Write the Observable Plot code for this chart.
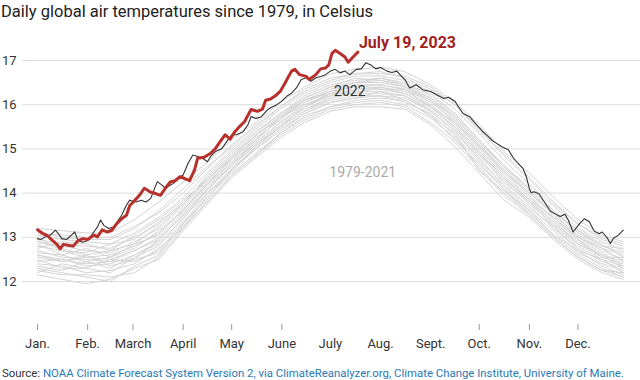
<!DOCTYPE html>
<html><head><meta charset="utf-8">
<script src="https://cdn.jsdelivr.net/npm/d3@7"></script>
<script src="https://cdn.jsdelivr.net/npm/@observablehq/plot@0.6"></script>
<style>
html,body{margin:0;padding:0;background:#fff;}
body{width:640px;height:380px;overflow:hidden;font-family:Roboto,"Liberation Sans",sans-serif;}
#title{font-size:16.5px;color:#222;height:24px;line-height:24px;padding-left:1px;white-space:nowrap;}
#chart svg{display:block;}
#source{font-size:11.4px;color:#333;line-height:18px;padding-left:2px;white-space:nowrap;font-family:Roboto,sans-serif;}
#source span{color:#2a78b6;}
</style></head><body>
<div id="title">Daily global air temperatures since 1979, in Celsius</div>
<div id="chart"></div>
<div id="source">Source: <span>NOAA Climate Forecast System Version 2, via ClimateReanalyzer.org, Climate Change Institute, University of Maine.</span></div>
<script>
// Month axis
const monthStarts = [0,31,59,90,120,151,181,212,243,273,304,334];
const monthLabels = ["Jan.","Feb.","March","April","May","June","July","Aug.","Sept.","Oct.","Nov.","Dec."];
const tickedMonths = [0,31,59,90,120,151,273,304,334];
const yTicks = [12,13,14,15,16,17];

// 1979-2021 (a sample of the gray band, read approximately)
const grayDays = [0,15,30,45,60,75,90,105,120,135,150,165,181,196,212,227,243,258,273,288,304,319,334,349,362];
const grayLines = [
  [12.15,12.05,11.95,12.05,12.3,12.5,13.15,13.75,14.35,14.8,15.25,15.6,15.85,15.95,15.95,15.9,15.55,15.05,14.45,13.85,13.45,12.95,12.5,12.2,12.05],
  [12.3,12.2,12.1,12.0,12.35,12.6,13.3,13.9,14.45,14.9,15.35,15.7,15.95,16.05,16.1,16.0,15.7,15.25,14.6,14.0,13.55,13.05,12.6,12.3,12.1],
  [12.4,12.35,12.2,12.25,12.4,12.75,13.2,13.95,14.5,15.0,15.45,15.8,16.05,16.15,16.2,16.05,15.8,15.3,14.7,14.1,13.6,13.15,12.65,12.4,12.25],
  [12.5,12.3,12.3,12.2,12.55,12.8,13.45,14.0,14.55,15.05,15.5,15.85,16.1,16.2,16.2,16.15,15.85,15.4,14.75,14.2,13.7,13.2,12.75,12.45,12.3],
  [12.6,12.5,12.35,12.4,12.6,12.9,13.4,14.1,14.6,15.1,15.55,15.9,16.15,16.3,16.3,16.2,15.9,15.45,14.85,14.3,13.75,13.3,12.85,12.55,12.4],
  [12.7,12.55,12.5,12.45,12.7,13.0,13.55,14.15,14.7,15.15,15.6,16.0,16.2,16.35,16.4,16.3,16.0,15.55,14.95,14.35,13.85,13.35,12.9,12.6,12.45],
  [12.8,12.7,12.55,12.6,12.8,13.1,13.6,14.2,14.8,15.2,15.7,16.05,16.3,16.4,16.45,16.35,16.05,15.65,15.05,14.45,13.9,13.45,13.0,12.7,12.5],
  [12.9,12.8,12.7,12.65,12.9,13.2,13.7,14.3,14.85,15.3,15.75,16.1,16.35,16.5,16.5,16.4,16.1,15.7,15.1,14.55,14.0,13.5,13.05,12.75,12.6],
  [12.95,12.85,12.8,12.75,13.0,13.3,13.8,14.35,14.9,15.35,15.8,16.2,16.45,16.55,16.6,16.5,16.2,15.8,15.2,14.65,14.1,13.6,13.1,12.8,12.65],
  [13.05,12.95,12.9,12.85,13.1,13.45,13.9,14.45,15.0,15.45,15.9,16.25,16.5,16.65,16.65,16.55,16.3,15.9,15.35,14.75,14.2,13.7,13.2,12.9,12.7],
  [13.1,13.05,13.0,13.0,13.25,13.55,14.0,14.55,15.1,15.5,15.95,16.35,16.6,16.7,16.75,16.6,16.35,16.0,15.45,14.85,14.3,13.75,13.3,12.95,12.8],
  [13.2,13.15,13.1,13.1,13.4,13.8,14.25,14.7,15.2,15.6,16.05,16.4,16.7,16.8,16.85,16.75,16.45,16.05,15.55,14.95,14.45,13.9,13.4,13.05,12.9],
  [12.2,12.4,12.3,12.5,12.45,12.7,13.35,13.85,14.55,15.0,15.4,15.8,16.05,16.15,16.3,16.1,15.75,15.35,14.5,14.05,13.6,13.05,12.7,12.35,12.15],
  [12.85,12.6,12.75,12.55,12.75,13.15,13.6,14.25,14.75,15.25,15.65,16.1,16.25,16.45,16.35,16.35,15.95,15.6,15.0,14.4,13.85,13.45,12.95,12.65,12.35],
  [12.55,12.45,12.6,12.35,12.5,12.95,13.5,14.05,14.65,15.1,15.5,15.95,16.25,16.25,16.4,16.25,15.95,15.5,14.9,14.25,13.8,13.25,12.8,12.5,12.2],
  [13.0,12.7,12.65,12.85,12.95,13.35,13.75,14.4,14.95,15.4,15.8,16.15,16.4,16.6,16.55,16.45,16.15,15.75,15.15,14.6,14.05,13.55,13.15,12.85,12.55],
  [12.35,12.25,12.45,12.3,12.6,12.85,13.3,14.0,14.5,15.05,15.5,15.85,16.15,16.25,16.25,16.2,15.85,15.4,14.8,14.15,13.65,13.25,12.7,12.5,12.35],
  [12.65,12.6,12.45,12.55,12.85,13.05,13.65,14.2,14.7,15.2,15.7,16.0,16.25,16.45,16.45,16.35,16.1,15.6,15.05,14.5,13.95,13.4,12.95,12.55,12.55],
  [12.75,12.9,12.85,12.7,13.05,13.4,13.85,14.3,14.85,15.3,15.75,16.15,16.4,16.5,16.6,16.45,16.25,15.8,15.2,14.6,14.1,13.6,13.15,12.8,12.75],
  [12.45,12.5,12.4,12.45,12.5,12.65,13.25,13.8,14.4,14.85,15.35,15.75,15.95,16.1,16.15,16.1,15.75,15.2,14.65,14.1,13.5,13.0,12.55,12.25,12.2],
  [13.15,13.0,12.95,12.95,13.2,13.6,14.1,14.6,15.05,15.55,15.95,16.3,16.55,16.7,16.7,16.65,16.4,16.0,15.4,14.9,14.35,13.8,13.3,13.0,12.85],
  [12.25,12.15,12.15,12.1,12.2,12.55,13.2,13.8,14.4,14.85,15.3,15.65,15.9,16.0,16.05,15.95,15.6,15.15,14.55,13.95,13.5,13.0,12.55,12.25,12.1],
  [12.9,12.75,12.6,12.7,12.85,13.25,13.75,14.3,14.8,15.3,15.7,16.1,16.3,16.5,16.55,16.4,16.15,15.7,15.1,14.5,14.0,13.55,13.0,12.75,12.45],
  [12.6,12.45,12.55,12.5,12.7,12.95,13.5,14.1,14.65,15.15,15.6,15.95,16.2,16.35,16.35,16.25,15.95,15.5,14.9,14.35,13.8,13.35,12.85,12.6,12.3]
];

// 2022
const days2022 = [0,2,5,8,11,13,15,18,21,23,25,28,31,34,37,39,41,44,47,50,52,55,57,61,64,67,70,74,77,79,82,84,87,90,93,96,99,102,105,107,110,114,117,120,123,127,130,132,135,138,140,142,144,147,151,154,157,160,163,166,169,172,175,178,181,184,187,190,193,197,200,203,206,209,212,216,219,222,225,227,230,234,238,243,247,251,254,258,260,263,267,271,275,278,281,284,287,291,294,297,300,302,304,305,307,310,314,317,320,323,326,328,331,335,338,341,344,347,349,352,354,356,359,362];
const temps2022 = [12.97,12.95,13.01,13.05,13.16,13.08,12.97,12.95,13.05,13.12,12.93,12.89,12.93,13.08,13.23,13.39,13.27,13.20,13.23,13.39,13.50,13.73,13.84,13.80,13.84,13.80,13.88,14.26,14.18,14.11,14.18,14.22,14.33,14.41,14.67,14.86,14.83,14.79,14.71,14.83,14.94,15.01,15.17,15.32,15.32,15.39,15.54,15.73,15.69,15.72,15.80,15.88,15.93,15.98,16.08,16.19,16.26,16.38,16.57,16.61,16.53,16.61,16.64,16.68,16.76,16.80,16.72,16.76,16.68,16.80,16.81,16.95,16.90,16.81,16.84,16.76,16.73,16.76,16.64,16.57,16.38,16.45,16.34,16.30,16.22,16.14,16.17,16.08,15.96,15.80,15.73,15.56,15.40,15.30,15.19,15.12,15.05,14.98,14.80,14.67,14.56,14.38,14.10,14.01,14.03,13.98,13.76,13.59,13.53,13.47,13.52,13.39,13.12,13.31,13.42,13.35,13.14,13.08,13.12,12.99,12.86,12.98,13.05,13.16];

// 2023 (through July 19)
const days2023 = [0,3,6,8,12,14,16,19,22,25,28,31,35,37,40,43,46,49,52,55,57,60,63,66,70,73,76,79,82,85,88,91,94,97,99,103,107,110,113,116,119,122,125,128,132,136,139,141,144,147,150,153,157,159,162,166,168,172,175,178,180,182,184,187,190,192,195,198];
const temps2023 = [13.17,13.09,13.04,12.97,12.84,12.74,12.84,12.82,12.80,12.92,12.97,12.95,13.05,13.01,13.17,13.12,13.16,13.31,13.42,13.50,13.72,13.83,13.95,14.11,14.02,13.99,13.95,14.11,14.25,14.28,14.37,14.33,14.28,14.52,14.79,14.81,14.90,15.01,15.17,15.32,15.22,15.39,15.51,15.62,15.89,15.85,15.90,16.10,16.13,16.20,16.30,16.49,16.76,16.80,16.68,16.64,16.57,16.68,16.81,16.83,16.90,17.16,17.23,17.16,17.08,16.96,17.08,17.19];

const grayData = grayLines.flatMap((vals, id) => vals.map((t, j) => ({day: grayDays[j], temp: t, id})));
const data2022 = days2022.map((d, i) => ({day: d, temp: temps2022[i]}));
const data2023 = days2023.map((d, i) => ({day: d, temp: temps2023[i]}));
const last2023 = [data2023[data2023.length - 1]];

const chart = Plot.plot({
  width: 640,
  height: 340,
  marginTop: 36,
  marginBottom: 40,
  marginLeft: 37,
  marginRight: 14,
  style: {fontFamily: "Roboto, sans-serif", fontSize: "13px", color: "#333", background: "#fff", overflow: "visible"},
  x: {domain: [0, 364], range: [37, 626]},
  y: {domain: [12, 17], range: [257, 36]},
  marks: [
    Plot.ruleY(yTicks, {stroke: "#dcdcdc", strokeWidth: 1, insetLeft: -15, insetRight: -14}),
    Plot.axisY({ticks: yTicks, tickSize: 0, tickPadding: 21, label: null, fontSize: 13, tickFormat: d => String(d)}),
    Plot.axisX({ticks: tickedMonths, tickSize: 6, stroke: "#999", tickFormat: () => "", label: null}),
    Plot.axisX({ticks: monthStarts, tickSize: 0, tickPadding: 14, label: null, fontSize: 13,
      tickFormat: d => monthLabels[monthStarts.indexOf(d)]}),
    Plot.line(grayData, {x: "day", y: "temp", z: "id", stroke: "#d4d4d4", strokeWidth: 1}),
    Plot.line(data2022, {x: "day", y: "temp", stroke: "#333", strokeWidth: 1.1}),
    Plot.line(data2023, {x: "day", y: "temp", stroke: "#b8302c", strokeWidth: 3, strokeLinejoin: "round", strokeLinecap: "round"}),
    Plot.text(last2023, {x: "day", y: "temp", text: () => "July 19, 2023", textAnchor: "start", lineAnchor: "bottom", dx: 1, dy: -4, fill: "#a11f1f", fontWeight: "bold", fontSize: 16}),
    Plot.text(["2022"], {x: 193, y: 16.3, text: d => d, fill: "#333", fontSize: 14}),
    Plot.text(["1979-2021"], {x: 201, y: 14.47, text: d => d, fill: "#aaa", fontSize: 14})
  ]
});
document.getElementById("chart").appendChild(chart);
</script>
</body></html>
